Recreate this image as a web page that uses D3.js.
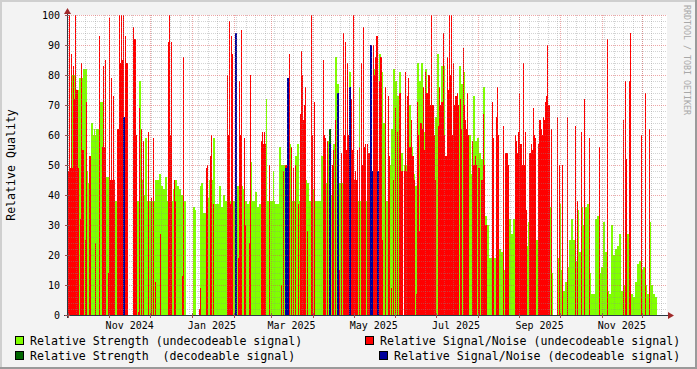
<!DOCTYPE html>
<html>
<head>
<meta charset="utf-8">
<script src="https://cdn.jsdelivr.net/npm/d3@7"></script>
<style>
  html, body { margin: 0; padding: 0; background: #f3f3f3; }
  svg { display: block; }
  text { font-family: "DejaVu Sans Mono", monospace; }
</style>
</head>
<body>
<div id="chart"></div>
<script>
// one value per consolidated step (17.8 h), 0 = no sample
const strength = [
  46,46, 46,46, 80,80, 80,80, 50,50, 75,75, 79,79, 79,79, 82,82, 82,82,
  48,44, 44,44, 64,64, 60,62, 60,62, 62,62, 62,71, 71,71, 40,40, 46,46,
  46,46, 30,30, 40,40, 38,38, 38,38, 38,38, 45,45, 45,45, 0,0, 40,40,
  0,0, 0,0, 0,0, 0,0, 39,39, 38,38, 78,78, 45,45, 40,40, 59,59,
  38,38, 38,38, 38,38, 38,38, 45,45, 45,45, 47,47, 43,43, 42,42, 46,46,
  38,38, 37,37, 38,38, 42,42, 45,45, 43,43, 42,42, 40,40, 38,38, 38,0,
  0,0, 0,0, 0,0, 36,36, 35,0, 0,0, 0,43, 44,44, 34,34, 34,34,
  39,39, 45,45, 45,45, 59,59, 37,37,
  37,37, 43,43, 36,36, 40,40, 38,38, 38,38, 38,38, 38,38, 38,38, 38,38,
  43,43, 43,43, 43,43, 42,42, 38,38, 37,37, 38,38, 51,38, 38,38, 41,41,
  36,36, 37,37, 45,45, 40,40, 40,72, 38,38, 38,38, 38,38, 48,38, 37,37,
  37,37, 56,56, 50,50, 50,50, 0,0, 0,0, 57,57, 38,38, 38,38, 53,53,
  57,57, 38,38, 38,38, 38,38, 45,45, 44,44, 38,38, 38,38, 42,42, 38,38,
  38,38, 38,38, 53,53, 44,44, 44,44, 58,58, 0,0, 40,40, 57,57, 86,86,
  77,77, 44,44, 44,44, 50,50, 50,50, 50,50, 81,81, 38,38, 38,38, 38,38,
  38,38, 76,38, 38,38, 38,38, 38,38,
  38,38, 38,0, 0,0, 82,82, 73,73, 0,0, 87,87, 81,81, 64,64, 38,38,
  38,38, 50,50, 62,62, 82,82, 78,78, 73,73, 81,81, 54,54, 0,50, 50,50,
  51,51, 70,70, 56,56, 47,47, 43,43, 84,84, 78,78, 84,84, 61,61, 82,82,
  60,60, 60,60, 60,60, 51,51, 66,66, 87,87, 45,45, 83,83, 83,83, 15,15,
  60,60, 60,60, 55,55, 55,55, 50,50, 50,50, 83,83, 77,77, 81,81, 57,57,
  49,49, 60,60, 47,47, 73,73, 58,58, 59,59, 54,54, 52,52, 76,76, 33,33,
  30,30, 19,19, 19,19, 19,19, 19,19, 19,19, 22,22, 21,21, 15,15, 27,27,
  27,27, 32,32, 27,27, 32,32, 22,22,
  31,31, 34,34, 19,19, 20,20, 35,35, 23,31, 31,31, 20,20, 20,20, 25,25,
  25,25, 27,27, 27,27, 27,27, 27,27, 36,36, 36,36, 14,14, 0,0, 0,0,
  19,19, 37,37, 15,15, 8,8, 11,11, 16,16, 25,25, 32,32, 25,25, 18,18,
  35,35, 21,21, 36,36, 30,30, 36,36, 37,37, 14,14, 7,7, 7,7, 32,32,
  33,33, 14,14, 16,16, 31,31, 21,21, 8,8, 7,7, 30,30, 20,20, 22,22,
  23,23, 27,27, 8,8, 10,10, 21,21, 27,27, 10,10, 7,7, 6,6, 11,11,
  17,17, 18,18, 15,15, 16,16, 10,10, 7,7, 31,31, 10,10, 7,7, 6,6,
  0,0, 0,0, 0,0, 0,0, 0,0
];
const snr = [
  48,48, 100,49, 87,49, 83,72, 100,75, 75,49, 0,32, 84,55, 55,0, 25,71,
  0,0, 53,53, 0,0, 0,0, 24,0, 0,0, 93,0, 0,56, 83,56, 85,0,
  0,14, 99,45, 79,45, 73,45, 0,0, 62,62, 100,84, 100,85, 100,0, 93,84,
  84,0, 0,0, 0,0, 96,92, 92,60, 0,1, 69,0, 62,0, 58,0, 0,0,
  0,61, 0,0, 39,0, 59,0, 11,0, 0,0, 0,27, 0,0, 0,0, 0,0,
  0,91, 100,60, 91,0, 0,45, 38,0, 0,0, 0,0, 0,13, 86,0, 0,0,
  0,0, 0,0, 0,0, 0,0, 0,0, 0,0, 2,9, 0,0, 0,0, 0,49,
  50,0, 0,53, 60,0, 37,0, 0,0,
  0,0, 0,0, 0,0, 0,0, 0,0, 80,60, 98,37, 93,87, 0,0, 0,0,
  0,19, 78,60, 95,0, 0,59, 30,0, 0,0, 24,80, 0,0, 0,0, 0,0,
  0,0, 0,0, 58,61, 57,61, 57,0, 0,0, 50,0, 0,0, 0,0, 0,0,
  0,0, 0,0, 10,0, 48,0, 50,50, 76,76, 87,0, 56,0, 49,0, 50,0,
  0,37, 0,67, 88,80, 65,70, 76,0, 28,0, 0,0, 100,60, 0,71, 0,0,
  0,0, 0,0, 0,0, 85,60, 59,0, 58,0, 0,0, 0,50, 55,0, 65,0,
  0,0, 15,0, 54,0, 94,60, 91,55, 84,60, 0,0, 72,55, 100,45, 48,45,
  55,0, 56,0, 84,50, 96,56, 57,0,
  57,54, 54,0, 0,0, 90,80, 86,93, 93,0, 78,86, 86,25, 0,0, 76,0,
  0,73, 53,0, 9,0, 45,0, 69,0, 61,0, 74,74, 48,48, 0,48, 81,48,
  73,79, 56,56, 65,53, 53,45, 0,7, 71,60, 28,64, 64,62, 76,55, 81,74,
  74,80, 80,70, 100,70, 70,60, 45,0, 0,63, 76,70, 71,71, 94,60, 53,53,
  86,75, 100,80, 100,60, 84,70, 73,73, 74,70, 0,72, 62,0, 89,70, 65,62,
  74,60, 0,0, 0,58, 50,50, 53,50, 0,49, 49,0, 45,45, 67,50, 30,30,
  0,0, 0,0, 0,71, 59,0, 0,66, 76,60, 0,0, 0,0, 63,0, 54,54,
  54,50, 0,0, 0,0, 0,0, 60,58,
  54,61, 74,57, 57,50, 84,50, 61,35, 0,0, 54,54, 57,55, 69,60, 59,0,
  0,57, 65,65, 62,60, 66,65, 71,73, 90,70, 70,0, 62,0, 0,0, 0,0,
  66,0, 50,0, 0,50, 0,0, 0,0, 66,0, 0,0, 0,0, 0,0, 63,0,
  38,0, 0,0, 61,0, 0,72, 0,0, 0,0, 59,0, 0,0, 0,0, 0,0,
  0,0, 56,0, 0,0, 0,0, 0,0, 92,0, 0,0, 0,0, 0,0, 0,0,
  0,0, 0,0, 0,0, 65,0, 78,52, 0,0, 78,94, 0,0, 0,0, 0,0,
  0,0, 0,0, 60,0, 0,0, 74,0, 0,0, 62,0, 0,0, 0,0, 0,0,
  0,0, 0,0, 0,0, 0,0, 0,0
];
// decodeable samples (sparse): step index, strength, signal/noise
const decStep     = [56, 57, 168, 169, 218, 219, 220, 221, 262, 263, 270, 271, 282, 283, 303, 304, 305, 310, 311];
const decStrength = [ 0,  0,   0,   0,   0,   0,   0,   0,  62,  62,   0,   0,   0,   0,   0,   0,   0,   0,   0];
const decSnr      = [66, 66,  94,  94,  49,  49,  79,  79,  57,  57,  74,  74,  76,  76,  90,  90,  48,  48,  48];

const yTicks = [0, 10, 20, 30, 40, 50, 60, 70, 80, 90, 100];
const xLabels = ['Nov 2024', 'Jan 2025', 'Mar 2025', 'May 2025', 'Jul 2025', 'Sep 2025', 'Nov 2025'];
const legendItems = [
  { label: 'Relative Strength (undecodeable signal)', color: '#80ff00' },
  { label: 'Relative Signal/Noise (undecodeable signal)', color: '#ff0000' },
  { label: 'Relative Strength  (decodeable signal)', color: '#006600' },
  { label: 'Relative Signal/Noise (decodeable signal)', color: '#000099' }
];

const W = 697, H = 369;
const plot = { left: 67, right: 667, top: 15, bottom: 315 };

const t0 = Date.UTC(2024, 8, 30, 12);
const step = 17.8 * 3600 * 1000;
const stepTime = i => new Date(t0 + i * step);

const svg = d3.select('#chart').append('svg')
  .attr('width', W)
  .attr('height', H);

// background + frame
svg.append('rect').attr('width', W).attr('height', H).attr('fill', '#f3f3f3');
svg.append('rect').attr('x', 0).attr('y', 0).attr('width', W).attr('height', 2).attr('fill', '#cfcfcf');
svg.append('rect').attr('x', 0).attr('y', 0).attr('width', 2).attr('height', H).attr('fill', '#cfcfcf');
svg.append('rect').attr('x', 0).attr('y', H - 2).attr('width', W).attr('height', 2).attr('fill', '#9a9a9a');
svg.append('rect').attr('x', W - 2).attr('y', 0).attr('width', 2).attr('height', H).attr('fill', '#9a9a9a');

svg.append('rect')
  .attr('x', plot.left).attr('y', plot.top)
  .attr('width', plot.right - plot.left).attr('height', plot.bottom - plot.top)
  .attr('fill', '#ffffff');

const x = d3.scaleUtc()
  .domain([stepTime(0), stepTime(strength.length)])
  .range([plot.left, plot.right]);

const y = d3.scaleLinear()
  .domain([0, 100])
  .range([plot.bottom, plot.top]);

// one column per step
function drawBars(steps, values, color) {
  svg.append('g')
    .attr('shape-rendering', 'crispEdges')
    .selectAll('rect')
    .data(steps.map((s, i) => ({ s: s, v: values[i] })).filter(d => d.v > 0))
    .enter().append('rect')
    .attr('x', d => Math.round(x(stepTime(d.s))))
    .attr('width', d => Math.round(x(stepTime(d.s + 1))) - Math.round(x(stepTime(d.s))))
    .attr('y', d => Math.round(y(d.v)))
    .attr('height', d => plot.bottom - Math.round(y(d.v)))
    .attr('fill', color);
}

const allSteps = strength.map((_, i) => i);
drawBars(allSteps, strength, '#80ff00');
drawBars(allSteps, snr, '#ff0000');
drawBars(decStep, decStrength, '#006600');
drawBars(decStep, decSnr, '#000099');

// grid on top, dotted
const grid = svg.append('g').attr('shape-rendering', 'crispEdges');
const minorCol = 'rgba(140,140,140,0.38)';
const majorCol = 'rgba(222,80,80,0.5)';

d3.range(0, 101, 2).filter(v => v % 10 !== 0).forEach(v => {
  grid.append('line')
    .attr('x1', plot.left).attr('x2', plot.right)
    .attr('y1', Math.round(y(v)) + 0.5).attr('y2', Math.round(y(v)) + 0.5)
    .attr('stroke', minorCol).attr('stroke-dasharray', '1,1');
});
d3.utcMonday.range(x.domain()[0], x.domain()[1]).forEach(d => {
  const px = Math.round(x(d)) + 0.5;
  grid.append('line')
    .attr('x1', px).attr('x2', px)
    .attr('y1', plot.top).attr('y2', plot.bottom)
    .attr('stroke', minorCol).attr('stroke-dasharray', '1,1');
});
yTicks.forEach(v => {
  grid.append('line')
    .attr('x1', plot.left).attr('x2', plot.right)
    .attr('y1', Math.round(y(v)) + 0.5).attr('y2', Math.round(y(v)) + 0.5)
    .attr('stroke', majorCol).attr('stroke-dasharray', '1,1');
});
const months = d3.utcMonth.range(x.domain()[0], x.domain()[1]);
months.forEach(d => {
  const px = Math.round(x(d)) + 0.5;
  grid.append('line')
    .attr('x1', px).attr('x2', px)
    .attr('y1', plot.top).attr('y2', plot.bottom)
    .attr('stroke', majorCol).attr('stroke-dasharray', '1,1');
});

// axes
const axisCol = '#2c3a44';
const arrowCol = '#a02a2a';
svg.append('line')
  .attr('x1', plot.left - 3).attr('x2', plot.right + 3)
  .attr('y1', plot.bottom + 0.5).attr('y2', plot.bottom + 0.5)
  .attr('stroke', axisCol);
svg.append('line')
  .attr('x1', plot.left + 0.5).attr('x2', plot.left + 0.5)
  .attr('y1', plot.bottom + 3).attr('y2', plot.top - 3)
  .attr('stroke', axisCol);
svg.append('path')
  .attr('d', `M${plot.right + 7},${plot.bottom + 0.5} L${plot.right + 1},${plot.bottom - 3} L${plot.right + 1},${plot.bottom + 4} Z`)
  .attr('fill', arrowCol);
svg.append('path')
  .attr('d', `M${plot.left + 0.5},${plot.top - 7} L${plot.left - 3},${plot.top - 1} L${plot.left + 4},${plot.top - 1} Z`)
  .attr('fill', arrowCol);

// tick marks
yTicks.forEach(v => {
  svg.append('line')
    .attr('x1', plot.left - 2).attr('x2', plot.left + 3)
    .attr('y1', Math.round(y(v)) + 0.5).attr('y2', Math.round(y(v)) + 0.5)
    .attr('stroke', '#a05050');
});
months.forEach(d => {
  const px = Math.round(x(d)) + 0.5;
  svg.append('line')
    .attr('x1', px).attr('x2', px)
    .attr('y1', plot.bottom - 2).attr('y2', plot.bottom + 3)
    .attr('stroke', '#a05050');
});

// tick labels
svg.append('g').selectAll('text')
  .data(yTicks)
  .enter().append('text')
  .attr('x', 60)
  .attr('y', d => y(d) + 3.6)
  .attr('text-anchor', 'end')
  .attr('font-size', '10px')
  .attr('fill', '#000')
  .text(d => d);

const labelMonths = months.filter(d => xLabels.includes(d3.utcFormat('%b %Y')(d)));
svg.append('g').selectAll('text')
  .data(labelMonths)
  .enter().append('text')
  .attr('x', d => x(d3.utcDay.offset(d, 15)))
  .attr('y', 329)
  .attr('text-anchor', 'middle')
  .attr('font-size', '10px')
  .attr('fill', '#000')
  .text(d => d3.utcFormat('%b %Y')(d));

// y title
svg.append('text')
  .attr('transform', 'translate(15,165) rotate(-90)')
  .attr('text-anchor', 'middle')
  .attr('font-size', '11.6px')
  .attr('fill', '#000')
  .text('Relative Quality');

// watermark
svg.append('text')
  .attr('transform', 'translate(684,5) rotate(90)')
  .attr('font-size', '8.3px')
  .attr('fill', '#a8a8a8')
  .text('RRDTOOL / TOBI OETIKER');

// legend
const legendPos = [
  { bx: 15, tx: 30, y: 336 },
  { bx: 365, tx: 380, y: 336 },
  { bx: 15, tx: 30, y: 351 },
  { bx: 379, tx: 394, y: 351 }
];
legendItems.forEach((item, i) => {
  const p = legendPos[i];
  svg.append('rect')
    .attr('x', p.bx + 0.5).attr('y', p.y + 0.5)
    .attr('width', 8).attr('height', 8)
    .attr('fill', item.color)
    .attr('stroke', '#000');
  svg.append('text')
    .attr('x', p.tx).attr('y', p.y + 8.5)
    .attr('font-size', '11.6px')
    .attr('fill', '#000')
    .style('white-space', 'pre')
    .text(item.label);
});
</script>
</body>
</html>
